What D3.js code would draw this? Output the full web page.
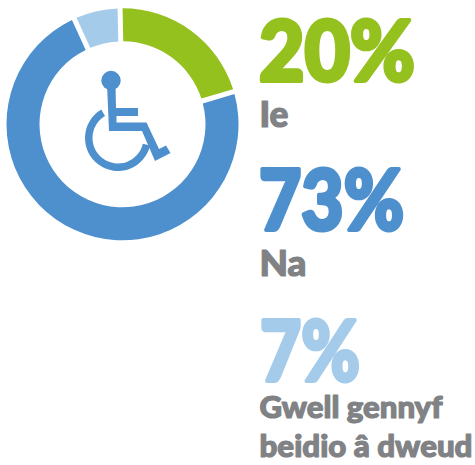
<!DOCTYPE html>
<html><head><meta charset="utf-8">
<script src="https://cdn.jsdelivr.net/npm/d3@7"></script>
<style>html,body{margin:0;padding:0;background:#fff}svg{display:block}</style>
</head><body><svg id="c" width="475" height="465"></svg>
<script>
const categories = ["Ie", "Na", "Gwell gennyf|beidio â dweud"];
const percentLabels = ["20%", "73%", "7%"];
const sliceShares = [20.8, 72.7, 6.5];
const colours = ["#95c11f", "#4d90cd", "#a5cbeb"];
const grey = "#808285";

const svg = d3.select("#c");
const ring = svg.append("g").attr("transform", "translate(122.5,124.3)");
const start = -1.2 * Math.PI / 180;
const pie = d3.pie().sort(null).startAngle(start).endAngle(start + 2 * Math.PI);
const arc = d3.arc().innerRadius(83).outerRadius(116).padAngle(0.05).padRadius(100);
ring.selectAll("path").data(pie(sliceShares)).join("path")
  .attr("d", arc).attr("fill", (d, i) => colours[i]);

// wheelchair icon
const icon = svg.append("g").attr("fill", colours[1]);
icon.append("circle").attr("cx", 111).attr("cy", 80.5).attr("r", 9.7);
icon.append("path").attr("d", "M107 84H115.5L116 108H138V116H116.5L116.5 122.5H146.5L159 149L166 145.5L170.5 153L155 161L142 131H109Z");
icon.append("path").attr("transform", "translate(118,138)")
  .attr("d", d3.arc()({innerRadius: 25.5, outerRadius: 33, startAngle: 1.8, endAngle: 5.75}));

// texts
const big = svg.append("g").attr("font-family", "Lato, sans-serif").attr("font-weight", 900)
  .attr("stroke-linejoin", "round").attr("stroke-linecap", "round");
const bigX = [259, 259, 260];
const bigY = [81, 230, 381];
const bigW = [156, 145, 100];
big.selectAll("text").data(percentLabels).join("text")
  .attr("x", (d, i) => bigX[i]).attr("y", (d, i) => bigY[i])
  .attr("font-size", 84)
  .attr("textLength", (d, i) => bigW[i]).attr("lengthAdjust", "spacingAndGlyphs")
  .attr("fill", (d, i) => colours[i]).attr("stroke", (d, i) => colours[i]).attr("stroke-width", 4)
  .text(d => d);

const lab = svg.append("g").attr("font-family", "Lato, sans-serif").attr("font-weight", 900)
  .attr("fill", grey).attr("stroke", grey).attr("stroke-width", 1.2).attr("stroke-linejoin", "round");
const labLines = [[categories[0]], [categories[1]], categories[2].split("|")];
const labY = [[126.5], [275.5], [418, 457]];
const labW = [[29], [47], [183, 213]];
const labS = [[36], [36], [31, 31]];
labLines.forEach((lines, i) => lines.forEach((t, j) => {
  lab.append("text").attr("x", 259.5).attr("y", labY[i][j]).attr("font-size", labS[i][j])
    .attr("textLength", labW[i][j]).attr("lengthAdjust", "spacingAndGlyphs").text(t);
}));
</script></body></html>
